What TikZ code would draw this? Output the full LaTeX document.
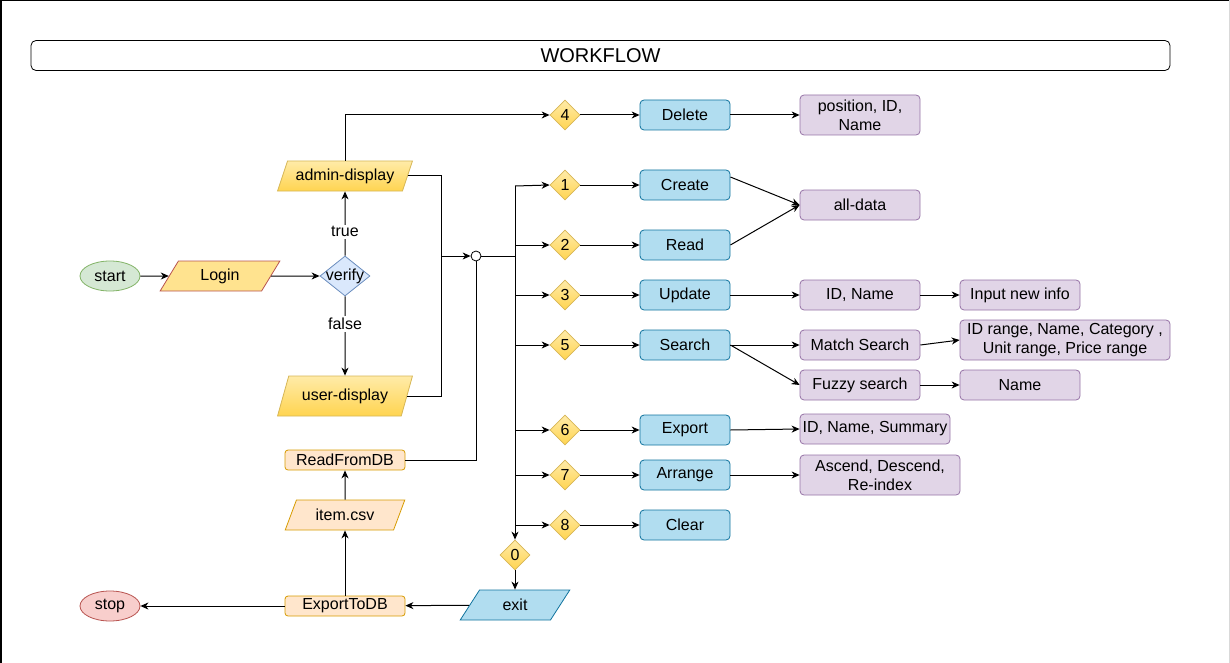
\documentclass[tikz,border=0pt]{standalone}
\usepackage{fontspec}
\setmainfont{Liberation Sans}
\usetikzlibrary{shapes.geometric,arrows.meta}

\definecolor{termgreen}{HTML}{D5E8D4}
\definecolor{termgreenline}{HTML}{82B366}
\definecolor{termred}{HTML}{F8CECC}
\definecolor{termredline}{HTML}{B85450}
\definecolor{yellowtop}{HTML}{FFEBA8}
\definecolor{yellowbot}{HTML}{FFD450}
\definecolor{yellowline}{HTML}{D6B656}
\definecolor{loginfill}{HTML}{FFE38F}
\definecolor{opfill}{HTML}{B1DDF0}
\definecolor{opline}{HTML}{10739E}
\definecolor{infofill}{HTML}{E1D5E7}
\definecolor{infoline}{HTML}{9673A6}
\definecolor{dbfill}{HTML}{FFE6CC}
\definecolor{dbline}{HTML}{D79B00}
\definecolor{verifyfill}{HTML}{DAE8FC}
\definecolor{verifyline}{HTML}{6C8EBF}

\begin{document}
\begin{tikzpicture}[x=1pt,y=-1pt,
  font=\fontsize{16}{19}\selectfont,
  arr/.style={-{Stealth[length=8pt,width=7pt,inset=2.5pt]},line width=1pt},
  wire/.style={line width=1pt},
  terminal/.style={ellipse,draw,line width=0.8pt,minimum width=60,minimum height=30,inner sep=0pt},
  io/.style={trapezium,trapezium left angle=60,trapezium right angle=120,trapezium stretches=true,
    draw,line width=0.8pt,minimum height=30,inner sep=0pt},
  yellowio/.style={io,draw=yellowline,top color=yellowtop,bottom color=yellowbot},
  choice/.style={diamond,draw=yellowline,line width=0.8pt,top color=yellowtop,bottom color=yellowbot,
    minimum width=30,minimum height=30,inner sep=0pt},
  opbox/.style={rectangle,rounded corners=4pt,draw=opline,fill=opfill,line width=0.8pt,
    minimum width=90,minimum height=30,inner sep=0pt},
  infobox/.style={rectangle,rounded corners=4pt,draw=infoline,fill=infofill,line width=0.8pt,
    minimum width=120,minimum height=30,inner sep=0pt,align=center},
  dbbox/.style={rectangle,rounded corners=3pt,draw=dbline,fill=dbfill,line width=0.8pt,
    minimum width=120,minimum height=20,inner sep=0pt},
  lbl/.style={fill=white,inner sep=2pt}
]
\useasboundingbox (0,0) rectangle (1230,663);
\draw[line width=1.5pt] (0.75,663) -- (0.75,0.75) -- (1230,0.75);
\draw[gray!30] (1229.5,0) -- (1229.5,663);

% title bar
\node[draw,rounded corners=5pt,line width=0.8pt,minimum width=1139,minimum height=30,
  font=\fontsize{20}{24}\selectfont] (title) at (600.5,55.5) {WORKFLOW};

% login part
\node[terminal,fill=termgreen,draw=termgreenline] (start) at (110,276) {start};
\node[io,fill=loginfill,draw=termredline,minimum width=120] (login) at (220,276) {Login};
\node[diamond,draw=verifyline,fill=verifyfill,line width=0.8pt,minimum width=50,minimum height=40,
  inner sep=0pt,label=center:verify] (verify) at (345,276) {};
\node[yellowio,minimum width=135] (admin) at (345,176) {admin-display};
\node[yellowio,minimum width=135,minimum height=40] (user) at (345,396) {user-display};

\draw[arr] (start) -- (login);
\draw[arr] (login) -- (verify);
\draw[arr] (verify.north) -- node[lbl,pos=0.37] (truelbl) {true} (admin.south);
\draw[arr] (verify.south) -- node[lbl,pos=0.35] (falselbl) {false} (user.north);

% menu hub
\coordinate (merge) at (441,256);
\node[circle,draw,fill=white,line width=0.8pt,minimum size=10,inner sep=0pt] (hub) at (476,256) {};
\coordinate (bus) at (515,256);
\coordinate (bustop) at (515,186);

\draw[wire] (admin.east) -| (merge);
\draw[wire] (user.east) -| (merge);
\draw[arr] (merge) -- (hub.west);
\draw[wire] (hub.east) -- (bus);

% options
\node[choice] (c4) at (565,115) {4};
\node[choice] (c1) at (565,185) {1};
\node[choice] (c2) at (565,245) {2};
\node[choice] (c3) at (565,295) {3};
\node[choice] (c5) at (565,345) {5};
\node[choice] (c6) at (565,430) {6};
\node[choice] (c7) at (565,475) {7};
\node[choice] (c8) at (565,525) {8};
\node[choice] (c0) at (515,555) {0};

\node[opbox] (delete) at (685,115) {Delete};
\node[opbox] (create) at (685,185) {Create};
\node[opbox] (read) at (685,245) {Read};
\node[opbox] (update) at (685,295) {Update};
\node[opbox] (search) at (685,345) {Search};
\node[opbox] (export) at (685,430) {Export};
\node[opbox] (arrange) at (685,475) {Arrange};
\node[opbox] (clear) at (685,525) {Clear};

\draw[arr] (admin.north) |- (c4.west);
\draw[arr] (bustop) -- (c0.north);
\draw[arr] (bustop) -- (c1.west);
\draw[arr] (bus |- c2) -- (c2.west);
\draw[arr] (bus |- c3) -- (c3.west);
\draw[arr] (bus |- c5) -- (c5.west);
\draw[arr] (bus |- c6) -- (c6.west);
\draw[arr] (bus |- c7) -- (c7.west);
\draw[arr] (bus |- c8) -- (c8.west);

\draw[arr] (c4) -- (delete);
\draw[arr] (c1) -- (create);
\draw[arr] (c2) -- (read);
\draw[arr] (c3) -- (update);
\draw[arr] (c5) -- (search);
\draw[arr] (c6) -- (export);
\draw[arr] (c7) -- (arrange);
\draw[arr] (c8) -- (clear);

% details
\node[infobox,minimum height=40] (posid) at (860,115) {position, ID,\\Name};
\node[infobox] (alldata) at (860,205) {all-data};
\node[infobox] (idname) at (860,295) {ID, Name};
\node[infobox] (newinfo) at (1020,295) {Input new info};
\node[infobox] (match) at (860,345) {Match Search};
\node[infobox,minimum width=210,minimum height=40] (idrange) at (1065,340) {ID range, Name, Category ,\\Unit range, Price range};
\node[infobox] (fuzzy) at (860,385) {Fuzzy search};
\node[infobox] (byname) at (1020,385) {Name};
\node[infobox,minimum width=150] (summary) at (875,429) {ID, Name, Summary};
\node[infobox,minimum width=160,minimum height=40] (ascend) at (880,475) {Ascend, Descend,\\Re-index};

\draw[arr] (delete) -- (posid);
\draw[arr] ([yshift=8]create.east) -- (alldata.west);
\draw[arr] (read.east) -- (alldata.west);
\draw[arr] (update) -- (idname);
\draw[arr] (idname) -- (newinfo);
\draw[arr] (search.east) -- (match.west);
\draw[arr] (search.east) -- (fuzzy.west);
\draw[arr] (match.east) -- (idrange.west);
\draw[arr] (fuzzy) -- (byname);
\draw[arr] (export.east) -- (summary.west);
\draw[arr] (arrange) -- (ascend);

% file side
\node[dbbox] (readdb) at (345,460) {ReadFromDB};
\node[io,fill=dbfill,draw=dbline,minimum width=120] (itemcsv) at (345,515) {item.csv};
\node[dbbox] (exportdb) at (345,606) {ExportToDB};
\node[terminal,fill=termred,draw=termredline] (stop) at (110,606) {stop};
\node[io,fill=opfill,draw=opline,minimum width=110] (exit) at (515,605) {exit};

\draw[wire] (hub.south) |- (readdb.east);
\draw[arr] (exportdb) -- (itemcsv);
\draw[arr] (itemcsv) -- (readdb);
\draw[arr] (c0) -- (exit);
\draw[arr] (exit) -- (exportdb);
\draw[arr] (exportdb) -- (stop);
\end{tikzpicture}
\end{document}
